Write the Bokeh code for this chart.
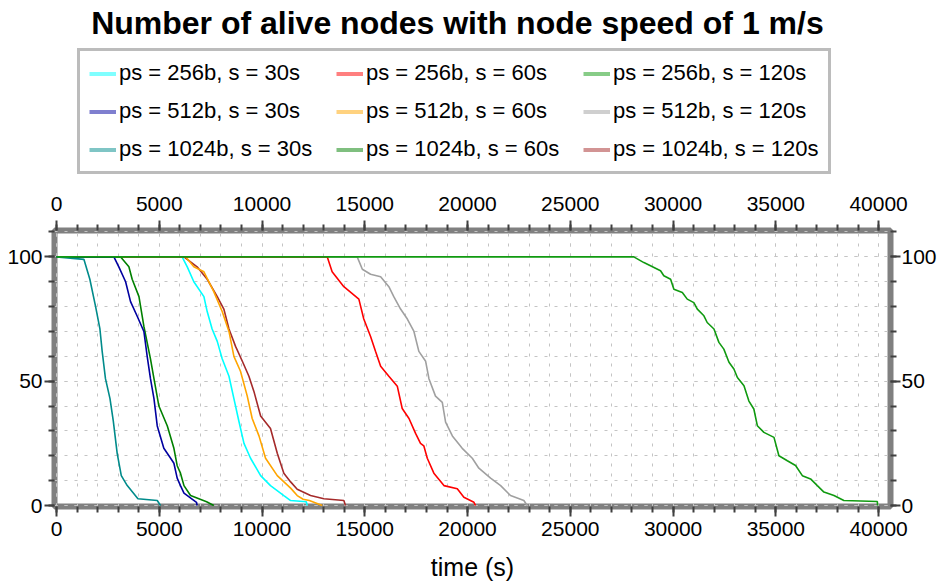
from bokeh.plotting import figure
from bokeh.models import (Range1d, LinearAxis, SingleIntervalTicker, Legend,
                          LegendItem, Label)
from bokeh.layouts import column
from bokeh.embed import file_html
from bokeh.resources import INLINE

title_text = "Number of alive nodes with node speed of 1 m/s"
x_label = "time (s)"

# series (legend order: column-major, rows = packet size, columns = interval)
labels = [
    "ps = 256b, s = 30s", "ps = 512b, s = 30s", "ps = 1024b, s = 30s",
    "ps = 256b, s = 60s", "ps = 512b, s = 60s", "ps = 1024b, s = 60s",
    "ps = 256b, s = 120s", "ps = 512b, s = 120s", "ps = 1024b, s = 120s",
]
colors = [
    "#00FFFF", "#0000A0", "#008B8B",
    "#FF0000", "#FFA500", "#008000",
    "#109A10", "#A0A0A0", "#A52A2A",
]

t_256_30 = [0, 6110, 6360, 6680, 7170, 7330, 7570, 7820, 8060, 8390, 8630, 8870,
            9120, 9440, 9930, 10410, 11060, 11390, 12150, 12200]
a_256_30 = [100, 100, 96, 90, 84, 78, 71, 66, 59, 52, 43, 34,
            25, 19, 12, 8, 4, 2, 1.5, 0]

t_512_30 = [0, 2790, 3030, 3360, 3600, 3930, 4250, 4410, 4570, 4740, 4900, 5220,
            5550, 5710, 5870, 6030, 6200, 6810, 6840]
a_512_30 = [100, 100, 96, 90, 82, 76, 70, 60, 51, 43, 32, 23,
            19, 17, 11, 8, 5, 1.3, 0]

t_1024_30 = [0, 1330, 1620, 1900, 2110, 2220, 2380, 2600, 2760, 2950, 3150, 3440,
             3960, 4900, 5060]
a_1024_30 = [100, 99, 91, 80, 71, 62, 51, 43, 34, 21, 12, 8,
             2.7, 2, 0]

t_256_60 = [0, 13170, 13410, 13980, 14710, 14950, 15280, 15520, 15770, 16170, 16580,
            16820, 17150, 17470, 17710, 17870, 18040, 18360, 18850, 19500, 19820,
            20310, 20390]
a_256_60 = [100, 100, 94, 88, 83, 75, 68, 62, 56, 52, 48,
            39, 35, 29, 25, 24, 19, 13, 8, 6.7, 3.3,
            1.3, 0]

t_512_60 = [0, 6280, 6680, 7170, 7650, 8060, 8390, 8630, 8950, 9280, 9520, 9850,
            10170, 10740, 11390, 11710, 12000, 12300, 12930]
a_512_60 = [100, 100, 96, 94, 86, 78, 70, 60, 54, 44, 35, 28,
            19, 12, 7, 4, 2.5, 2, 0]

t_1024_60 = [0, 3110, 3520, 3680, 4010, 4250, 4570, 4740, 4980, 5390, 5710, 5870,
             6030, 6200, 6520, 7300, 7650]
a_1024_60 = [100, 100, 96, 91, 84, 72, 59, 51, 40, 32, 23, 16,
             13, 8, 4, 1.5, 0]

t_256_120 = [0, 28090, 28580, 28900, 29390, 29550, 29880, 30040, 30450, 30690,
             31010, 31180, 31500, 31660, 31990, 32230, 32470, 32720, 32960, 33130,
             33450, 33690, 33930, 34100, 34420, 34910, 35150, 35560, 35960, 36290,
             36690, 37020, 37340, 37830, 38310, 39940, 39950]
a_256_120 = [100, 100, 97.7, 96.4, 94.4, 92.4, 91, 87, 85.7, 83,
             81.6, 79, 76.3, 73.6, 71, 65.6, 62.9, 57.6, 54.9, 51.5,
             48.2, 42, 38.8, 32.1, 29.4, 27.4, 20, 18, 16.1, 12,
             10.7, 8, 5.4, 4, 2, 1.6, 0]

t_512_120 = [0, 14630, 14880, 15280, 15770, 16170, 16410, 16740, 17070, 17390,
             17630, 17960, 18120, 18440, 18770, 18930, 19260, 19740, 20230, 20550,
             21120, 21610, 22090, 22740, 22900]
a_512_120 = [100, 100, 95, 93, 92, 88, 84, 79, 75, 70,
             62, 58, 51, 44, 41.5, 33.5, 28, 23, 19, 15,
             11, 8, 4, 2, 0]

t_1024_120 = [0, 6200, 6840, 7330, 7820, 8140, 8390, 8710, 9040, 9360, 9600, 9930,
              10410, 10740, 11060, 11390, 11710, 12360, 13010, 13980, 14060]
a_1024_120 = [100, 100, 96, 91, 84, 79, 71, 64, 58, 52, 46, 36,
              31, 21, 13, 9.5, 6.5, 4, 2.7, 2, 0]

times = [t_256_30, t_512_30, t_1024_30, t_256_60, t_512_60, t_1024_60,
         t_256_120, t_512_120, t_1024_120]
alive = [a_256_30, a_512_30, a_1024_30, a_256_60, a_512_60, a_1024_60,
         a_256_120, a_512_120, a_1024_120]
draw_order = [7, 8, 4, 0, 3, 5, 1, 2, 6]

FONT = "Liberation Sans"

# ---------------- header: title + legend ----------------
HEAD_H = 180
head = figure(width=944, height=HEAD_H, output_backend="svg", toolbar_location=None,
              x_range=Range1d(0, 944), y_range=Range1d(HEAD_H, 0),
              x_axis_location=None, y_axis_location=None,
              min_border=0, min_border_left=0, min_border_right=0,
              min_border_top=0, min_border_bottom=0)
head.grid.visible = False
head.outline_line_color = None
head.background_fill_color = "white"
head.border_fill_color = "white"

head.add_layout(Label(x=455, y=22, text=title_text, text_align="center",
                      text_baseline="alphabetic", text_font=FONT,
                      text_font_style="bold", text_font_size="32px",
                      text_color="black"))

items = []
for lab, col in zip(labels, colors):
    r = head.line([-500], [-500], line_color=col, line_alpha=0.5, line_width=4)
    items.append(LegendItem(label=lab, renderers=[r]))

legend = Legend(items=items, location=(23, HEAD_H - 174), orientation="vertical",
                ncols=3, padding=9, spacing=12, margin=0,
                glyph_width=27, glyph_height=25, label_height=25,
                label_standoff=3, label_width=205,
                label_text_font=FONT, label_text_font_size="22px",
                label_text_color="black",
                border_line_color="#7a7a7a", border_line_width=3,
                background_fill_color="white", background_fill_alpha=1)
head.add_layout(legend)

# ---------------- main plot ----------------
p = figure(width=944, height=586 - HEAD_H, output_backend="svg",
           toolbar_location=None,
           x_range=Range1d(-100, 40580), y_range=Range1d(-0.4, 110.6),
           min_border_left=54, min_border_right=54, min_border_top=230 - HEAD_H,
           min_border_bottom=80)
p.background_fill_color = "white"
p.border_fill_color = "white"
p.outline_line_color = "#808080"
p.outline_line_width = 6

xt = SingleIntervalTicker(interval=5000, num_minor_ticks=5)
yt = SingleIntervalTicker(interval=50, num_minor_ticks=5)

bottom_axis = p.below[0]
left_axis = p.left[0]
top_axis = LinearAxis()
right_axis = LinearAxis()
p.add_layout(top_axis, "above")
p.add_layout(right_axis, "right")


def style_axis(ax, ticker, standoff):
    ax.ticker = ticker
    ax.axis_line_color = None
    ax.major_tick_in = 0
    ax.major_tick_out = 10
    ax.minor_tick_in = 0
    ax.minor_tick_out = 6
    ax.major_tick_line_color = "#404040"
    ax.major_tick_line_width = 2
    ax.minor_tick_line_color = "#404040"
    ax.minor_tick_line_width = 2
    ax.major_label_text_font = FONT
    ax.major_label_text_font_size = "21px"
    ax.major_label_text_color = "black"
    ax.major_label_standoff = standoff


style_axis(bottom_axis, xt, 5)
style_axis(top_axis, xt, 10)
style_axis(left_axis, yt, 2)
style_axis(right_axis, yt, 1)

bottom_axis.axis_label = x_label
bottom_axis.axis_label_text_font = FONT
bottom_axis.axis_label_text_font_size = "25px"
bottom_axis.axis_label_text_font_style = "normal"
bottom_axis.axis_label_text_color = "black"
bottom_axis.axis_label_standoff = 14

for g, t in ((p.xgrid[0], xt), (p.ygrid[0], yt)):
    g.ticker = t
    g.grid_line_color = "#c4c4c4"
    g.grid_line_dash = "3 7"
    g.grid_line_width = 1
    g.minor_grid_line_color = "#c4c4c4"
    g.minor_grid_line_dash = "3 7"
    g.minor_grid_line_width = 1

for i in draw_order:
    p.line(times[i], alive[i], line_color=colors[i], line_width=1.6)

layout = column(head, p, spacing=0)
open("out.html", "w").write(file_html(layout, INLINE))
